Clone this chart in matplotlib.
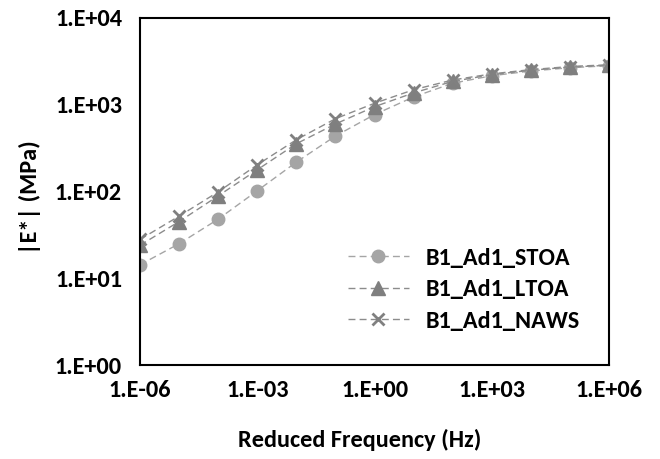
import matplotlib
matplotlib.use("Agg")
import matplotlib.pyplot as plt
from matplotlib.ticker import FixedLocator, FuncFormatter, NullLocator
import math

plt.rcParams['font.family'] = ['Carlito', 'DejaVu Sans']
plt.rcParams['font.weight'] = 'bold'
FS = 17.5

# reduced frequency (Hz), one point per decade
freq = [1e-6, 1e-5, 1e-4, 1e-3, 1e-2, 1e-1, 1e0, 1e1, 1e2, 1e3, 1e4, 1e5, 1e6]

# |E*| (MPa)
stoa = [14.3, 25, 48, 102, 218, 436, 770, 1230, 1770, 2160, 2450, 2670, 2820]
ltoa = [24, 45, 89, 178, 355, 600, 950, 1370, 1860, 2220, 2500, 2720, 2850]
naws = [28, 52, 99, 203, 395, 690, 1040, 1490, 1930, 2270, 2540, 2760, 2890]

labels = ['B1_Ad1_STOA', 'B1_Ad1_LTOA', 'B1_Ad1_NAWS']

fig = plt.figure(figsize=(6.6, 4.59), dpi=100)
ax = fig.add_axes([140 / 660, 1 - 365 / 459, 469 / 660, 347 / 459])

ax.plot(freq, stoa, color='#A5A5A5', lw=1.0, ls=(0, (5, 3)),
        marker='o', ms=9, mfc='#A5A5A5', mec='#A5A5A5', label=labels[0])
ax.plot(freq, ltoa, color='#8C8C8C', lw=1.0, ls=(0, (5, 3)),
        marker='^', ms=9.5, mfc='#7F7F7F', mec='#7F7F7F', label=labels[1])
ax.plot(freq, naws, color='#8C8C8C', lw=1.0, ls=(0, (5, 3)),
        marker='x', ms=9, mew=2, mec='#808080', label=labels[2])

ax.set_xscale('log')
ax.set_yscale('log')
ax.set_xlim(1e-6, 1e6)
ax.set_ylim(1, 1e4)


def sci(v, pos):
    e = int(round(math.log10(v)))
    return '1.E%s%02d' % ('+' if e >= 0 else '-', abs(e))


ax.xaxis.set_major_locator(FixedLocator([1e-6, 1e-3, 1e0, 1e3, 1e6]))
ax.yaxis.set_major_locator(FixedLocator([1e0, 1e1, 1e2, 1e3, 1e4]))
ax.xaxis.set_minor_locator(NullLocator())
ax.yaxis.set_minor_locator(NullLocator())
ax.xaxis.set_major_formatter(FuncFormatter(sci))
ax.yaxis.set_major_formatter(FuncFormatter(sci))
ax.tick_params(axis='y', length=0, labelsize=FS, pad=13)
ax.tick_params(axis='x', length=0, labelsize=FS, pad=11)
for lab in ax.get_xticklabels() + ax.get_yticklabels():
    lab.set_fontweight('bold')

for s in ax.spines.values():
    s.set_linewidth(1.5)
    s.set_color('black')

ax.set_xlabel('Reduced Frequency (Hz)', fontsize=FS, fontweight='bold')
ax.xaxis.label.set_va('center')
ax.xaxis.set_label_coords(0.469, -0.216)
ax.set_ylabel('|E*| (MPa)', fontsize=FS, fontweight='bold')
ax.yaxis.label.set_va('center')
ax.yaxis.set_label_coords(-0.2345, 0.484)

leg = ax.legend(loc='upper left', bbox_to_anchor=(0.4435, 0.3385), frameon=False,
                fontsize=FS, handlelength=2.5, handletextpad=0.7,
                labelspacing=0.44, borderaxespad=0, borderpad=0)
for t in leg.get_texts():
    t.set_fontweight('bold')

fig.savefig('out.png', dpi=100)
